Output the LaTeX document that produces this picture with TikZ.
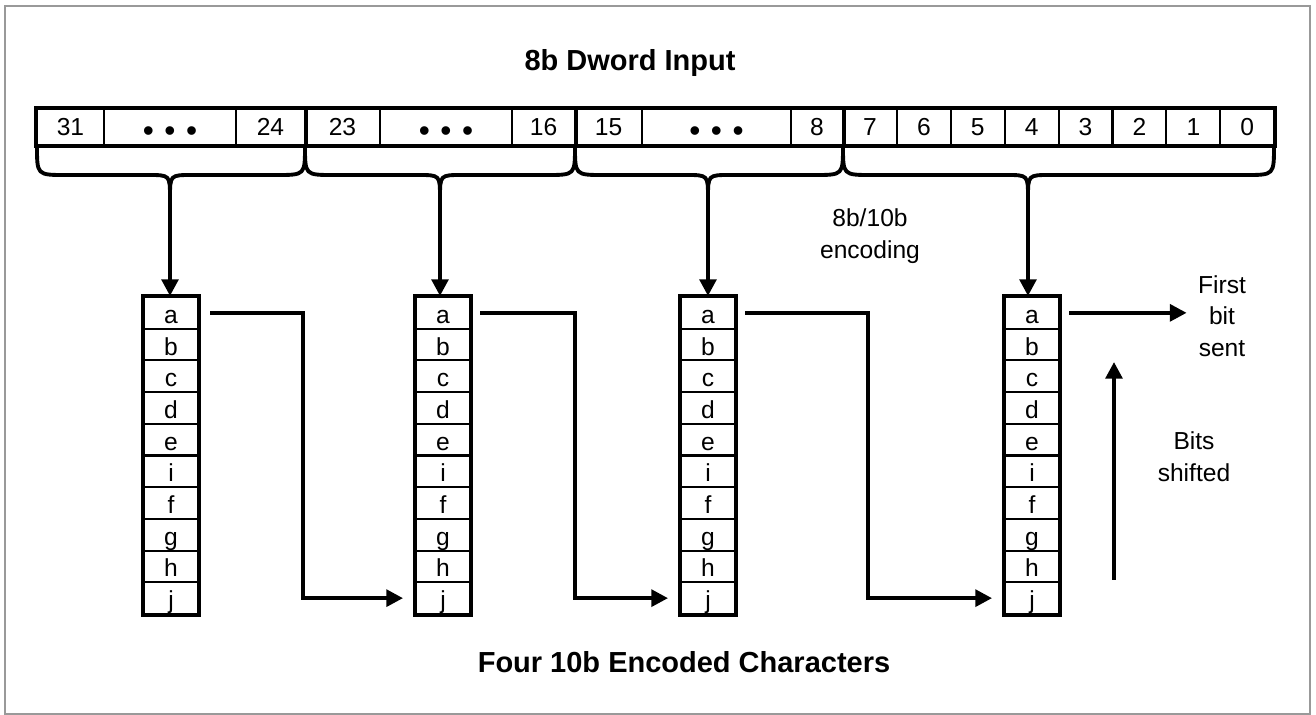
\documentclass[tikz,border=0pt]{standalone}
\usepackage{fontspec}
\setmainfont{Liberation Sans}
\usetikzlibrary{arrows.meta}
\newcommand{\bitdots}{{\fontsize{18}{18}\selectfont\raisebox{-3.2pt}{\textbullet\hspace{6pt}\textbullet\hspace{6pt}\textbullet}}}
\tikzset{
    thinln/.style={line width=1.2pt},
    thickln/.style={line width=2.2pt},
    regcell/.style={draw, thinln, minimum height=0.72cm, inner sep=0pt,
        text height=10pt, text depth=0pt, font=\fontsize{14}{16}\selectfont},
    colcell/.style={draw, thinln, minimum width=1.1cm, minimum height=0.634cm, inner sep=0pt,
        text height=12pt, text depth=0pt, font=\fontsize{14}{16}\selectfont},
    arr/.style={thickln, -{Triangle[length=9.5pt,width=9.5pt]}},
    note/.style={align=center, font=\fontsize{14}{18}\selectfont},
    heading/.style={font=\bfseries\fontsize{16.5}{20}\selectfont}
}
\begin{document}
\begin{tikzpicture}[x=0.02cm, y=-0.02cm]
        \useasboundingbox (0,0) rectangle (1316,715);
        \draw[gray!80, line width=1.4pt] (5,6) rectangle (1310,714);
        \node[heading] (top) at (630,63) {8b Dword Input};
        % dword register
        \foreach \xa/\xb/\txt/\nm in {37/104/31/b31, 104/236/\bitdots/d1, 236/305/24/b24,
                305/380/23/b23, 380/512/\bitdots/d2, 512/575/16/b16,
                575/642/15/b15, 642/791/\bitdots/d3, 791/843/8/b8}
            \node[regcell, minimum width={(\xb-\xa)*0.02cm}] (\nm) at ({(\xa+\xb)/2},127) {\txt};
        \foreach \b in {7,...,0}
            \node[regcell, minimum width=1.078cm] (b\b) at ({843+53.9*(7-\b)+26.95},127) {\b};
        \draw[thickln] (b31.north west) rectangle (b0.south east);
        \foreach \nm in {b24,b16,b8}
            \draw[thickln] (\nm.north east) -- (\nm.south east);
        % braces
        \foreach \xa/\xc/\xb/\nm in {37/170/305/1, 305/440/575/2, 575/708/843/3, 843/1028/1274/4} {
            \draw[thickln] (\xa,146) .. controls (\xa,175) .. ({\xa+28},175) -- ({\xc-22},175)
                .. controls (\xc,175) .. (\xc,198) .. controls (\xc,175) .. ({\xc+22},175)
                -- ({\xb-28},175) .. controls (\xb,175) .. (\xb,146);
            \coordinate (tip\nm) at (\xc,198);
        }
        \node[note] (enc) at (870,236) {8b/10b\\encoding};
        % encoded characters
        \foreach \col/\xc in {1/171, 2/443, 3/708, 4/1032} {
            \foreach \txt [count=\k] in {a,b,c,d,e,i,f,g,h,j}
                \node[colcell] (c\col\txt) at (\xc,{297+31.7*(\k-0.5)}) {\txt};
            \draw[thickln] (c\col a.north west) rectangle (c\col j.south east);
            \draw[arr] (tip\col) -- (tip\col |- c\col a.north);
        }
        \coordinate (k1) at (303,450);
        \coordinate (k2) at (575,450);
        \coordinate (k3) at (868,450);
        \draw[arr, shorten <=6pt, shorten >=6.5pt] (c1a.east) -| (k1) |- (c2j.west);
        \draw[arr, shorten <=5pt, shorten >=6.5pt] (c2a.east) -| (k2) |- (c3j.west);
        \draw[arr, shorten <=5pt, shorten >=6.5pt] (c3a.east) -| (k3) |- (c4j.west);
        \node[note] (sent) at (1222,316) {First\\bit\\sent};
        \draw[arr, shorten <=5pt, shorten >=3pt] (c4a.east) -- (c4a.east -| sent.west);
        \coordinate (sh0) at (1114,580);
        \coordinate (sh1) at (1114,362);
        \draw[arr] (sh0) -- (sh1);
        \node[note] (shift) at (1194,457) {Bits\\shifted};
        \node[heading] (bot) at (684,662) {Four 10b Encoded Characters};
    \end{tikzpicture}
\end{document}
